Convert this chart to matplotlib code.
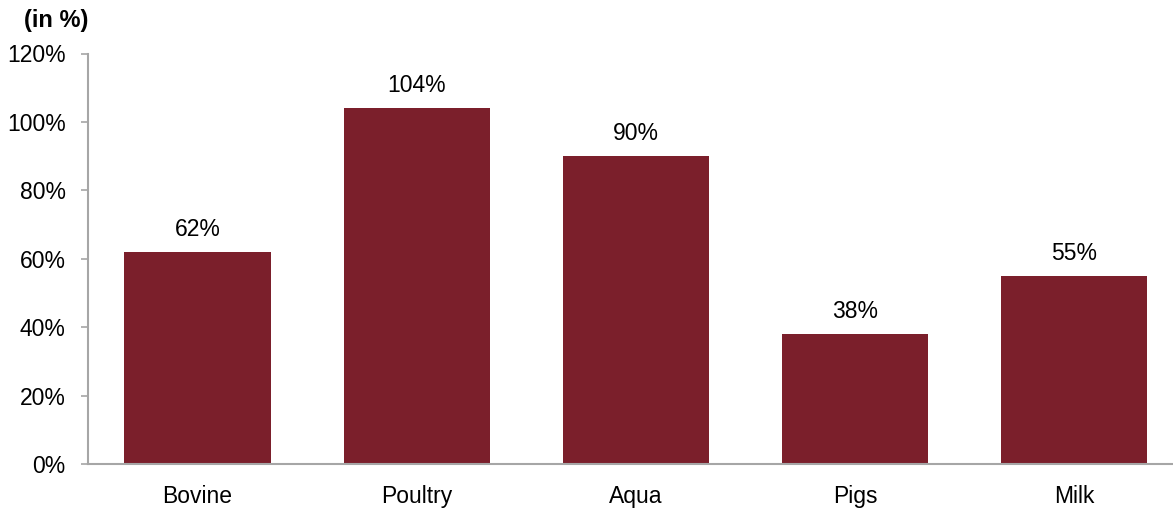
import matplotlib
matplotlib.use("Agg")
import matplotlib.pyplot as plt
from matplotlib.ticker import FuncFormatter

categories = ["Bovine", "Poultry", "Aqua", "Pigs", "Milk"]
values = [62, 104, 90, 38, 55]
y_ticks = [0, 20, 40, 60, 80, 100, 120]

plt.rcParams["font.family"] = ["Liberation Sans", "DejaVu Sans"]

fig = plt.figure(figsize=(11.73, 5.08), dpi=100)
ax = fig.add_axes([88 / 1173, 44 / 508, 1 - 88 / 1173, (464 - 53.5) / 508])

bar_color = "#7B1F2B"
spine_color = "#A6A6A6"

x = list(range(len(categories)))
bars = ax.bar(x, values, width=0.667, color=bar_color, zorder=2)

for xi, v in zip(x, values):
    ax.annotate(f"{v}%", (xi, v), xytext=(0, 8), textcoords="offset points",
                ha="center", va="bottom", fontsize=16.5, color="#000000")

ax.set_xlim(-0.5, 4.45)
ax.set_ylim(0, 120)
ax.set_yticks(y_ticks)
ax.yaxis.set_major_formatter(FuncFormatter(lambda v, p: f"{int(v)}%"))
ax.set_xticks(x)
ax.set_xticklabels(categories)

for side in ("top", "right"):
    ax.spines[side].set_visible(False)
for side in ("left", "bottom"):
    ax.spines[side].set_color(spine_color)
    ax.spines[side].set_linewidth(1.5)

ax.tick_params(axis="y", length=5, width=1.2, color=spine_color, pad=11,
               labelsize=16.5, labelcolor="#000000")
ax.tick_params(axis="x", length=0, pad=15, labelsize=16.5, labelcolor="#000000")

fig.text(24 / 1173, 1 - 20 / 508, "(in %)", fontsize=17, fontweight="bold",
         ha="left", va="center")

fig.savefig("out.png", dpi=100)
